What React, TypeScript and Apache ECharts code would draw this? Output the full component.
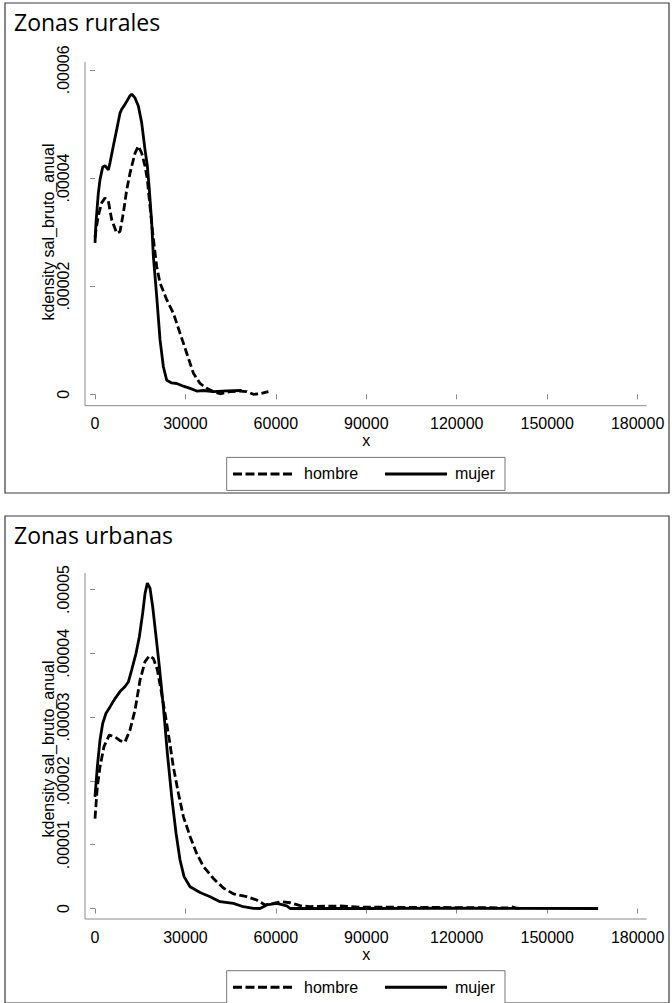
import React, { useEffect, useRef } from "react";
import * as echarts from "echarts";

// Panel titles / legend entries
const panelTitles = ["Zonas rurales", "Zonas urbanas"];
const seriesNames = ["hombre", "mujer"];
const yTitle = "kdensity sal_bruto_anual";
const xTitle = "x";

// Axis ranges
const xMax = 180000;
const xStep = 30000;
const ruralYMax = 0.00006;
const ruralYStep = 0.00002;
const urbanYMax = 0.00005;
const urbanYStep = 0.00001;

// Rural: [salary, density]
const ruralHombre: [number, number][] = [
  [0, 2.9e-5], [330, 3.04e-5], [1100, 3.3e-5], [2210, 3.54e-5], [3320, 3.63e-5],
  [4430, 3.57e-5], [5530, 3.23e-5], [7190, 2.98e-5], [8300, 3.01e-5], [9400, 3.35e-5],
  [10510, 3.78e-5], [11620, 4.09e-5], [13280, 4.46e-5], [14380, 4.59e-5], [15490, 4.46e-5],
  [16600, 4.22e-5], [17370, 3.97e-5], [18250, 3.47e-5], [19140, 2.98e-5], [20470, 2.36e-5],
  [21570, 2.06e-5], [23790, 1.75e-5], [25990, 1.5e-5], [28210, 1.13e-5], [30430, 7.6e-6],
  [32640, 3.9e-6], [34850, 2.0e-6], [37070, 1.1e-6], [39280, 0.5e-6], [41490, 0.1e-6],
  [44810, 0.5e-6], [48130, 0.6e-6], [50340, 0.5e-6], [52550, 0], [54760, 0.1e-6],
  [57520, 0.5e-6],
];
const ruralMujer: [number, number][] = [
  [0, 2.8e-5], [330, 3.17e-5], [1100, 3.72e-5], [1660, 3.97e-5], [2550, 4.2e-5],
  [3320, 4.23e-5], [4430, 4.15e-5], [4980, 4.28e-5], [6080, 4.59e-5], [7190, 4.89e-5],
  [8300, 5.2e-5], [8850, 5.27e-5], [9960, 5.36e-5], [11620, 5.52e-5], [12170, 5.55e-5],
  [13280, 5.48e-5], [14380, 5.33e-5], [15490, 5.02e-5], [16600, 4.52e-5], [17370, 4.22e-5],
  [18030, 3.78e-5], [18810, 3.17e-5], [19360, 2.55e-5], [20470, 1.81e-5], [21570, 1.01e-5],
  [22680, 5.1e-6], [23790, 2.6e-6], [25450, 2.1e-6], [27110, 2.0e-6], [29320, 1.5e-6],
  [31530, 1.1e-6], [33750, 0.6e-6], [35960, 0.7e-6], [39280, 0.5e-6], [43700, 0.65e-6],
  [48700, 0.7e-6],
];

// Urban: [salary, density]
const urbanHombre: [number, number][] = [
  [0, 1.41e-5], [770, 1.91e-5], [1660, 2.22e-5], [2990, 2.54e-5], [4760, 2.72e-5],
  [6640, 2.69e-5], [8300, 2.63e-5], [9960, 2.61e-5], [11620, 2.8e-5], [13280, 3.11e-5],
  [14940, 3.58e-5], [16600, 3.87e-5], [18030, 3.96e-5], [19360, 3.92e-5], [20690, 3.74e-5],
  [21910, 3.42e-5], [23230, 3.06e-5], [24670, 2.64e-5], [25990, 2.22e-5], [27650, 1.81e-5],
  [29320, 1.44e-5], [31530, 1.13e-5], [33750, 8.6e-6], [35960, 6.6e-6], [39280, 4.7e-6],
  [42590, 3.2e-6], [45910, 2.3e-6], [50340, 1.85e-6], [53670, 1.33e-6], [56420, 0.55e-6],
  [59180, 0.8e-6], [61960, 1.07e-6], [64720, 0.9e-6], [68040, 0.44e-6], [71360, 0.3e-6],
  [81300, 0.4e-6], [88000, 0.2e-6], [96800, 0.2e-6], [137000, 0.1e-6], [137700, 0.35e-6],
  [139500, 0.1e-6], [141000, 0],
];
const urbanMujer: [number, number][] = [
  [0, 1.75e-5], [770, 2.22e-5], [1660, 2.64e-5], [2550, 2.9e-5], [3650, 3.06e-5],
  [4980, 3.16e-5], [6640, 3.29e-5], [8300, 3.4e-5], [9960, 3.48e-5], [11060, 3.55e-5],
  [12170, 3.74e-5], [13610, 4.0e-5], [14710, 4.26e-5], [15820, 4.63e-5], [16600, 4.94e-5],
  [17370, 5.1e-5], [18250, 5.02e-5], [19140, 4.73e-5], [20250, 4.26e-5], [21350, 3.79e-5],
  [22680, 3.16e-5], [24010, 2.43e-5], [25450, 1.75e-5], [26890, 1.18e-5], [28210, 7.6e-6],
  [29540, 5.0e-6], [31530, 3.4e-6], [34850, 2.5e-6], [38170, 1.85e-6], [41490, 1.07e-6],
  [45910, 0.8e-6], [49220, 0.28e-6], [52540, 0.03e-6], [54760, 0], [56980, 0.55e-6],
  [60300, 0.8e-6], [63620, 0.4e-6], [64720, 0], [90000, 0], [120000, 0.05e-6], [166900, 0],
];

const AXIS_FONT = "'Liberation Sans', Arial, sans-serif";
const TITLE_FONT = "'Open Sans', 'Noto Sans', sans-serif";
const AXIS_GRAY = "#8a8a8a";
const DASH = [8, 3.5];

const fmtY = (v: number) => (v === 0 ? "0" : v.toFixed(5).replace(/^0/, ""));
const fmtX = (v: number) => String(Math.round(v));

export default function App() {
  const ref = useRef<HTMLDivElement>(null);
  useEffect(() => {
    const chart = echarts.init(ref.current!, null, { renderer: "svg" });

    const panels = [
      { top: 69.8, height: 324.5, yMax: ruralYMax, yStep: ruralYStep, xOff: 11.4, legendTop: 457.4, dy: 0 },
      { top: 589.5, height: 319, yMax: urbanYMax, yStep: urbanYStep, xOff: 10.5, legendTop: 970.7, dy: 513 },
    ];

    const grid = panels.map((p) => ({ left: 95, width: 542.6, top: p.top, height: p.height }));

    const xAxis = panels.map((p, i) => ({
      type: "value",
      gridIndex: i,
      min: 0,
      max: xMax,
      interval: xStep,
      offset: p.xOff,
      axisLine: { show: false },
      axisTick: { show: true, length: 5, lineStyle: { color: AXIS_GRAY, width: 1 } },
      splitLine: { show: false },
      axisLabel: { fontSize: 16, fontFamily: AXIS_FONT, color: "#000", margin: 10, formatter: fmtX },
      name: xTitle,
      nameLocation: "middle",
      nameGap: 27,
      nameMoveOverlap: false,
      nameTextStyle: { fontSize: 16, fontFamily: AXIS_FONT, color: "#000" },
    }));

    const yAxis = panels.map((p, i) => ({
      type: "value",
      gridIndex: i,
      min: 0,
      max: p.yMax,
      interval: p.yStep,
      offset: 10,
      axisLine: { show: false },
      axisTick: { show: true, length: 5, lineStyle: { color: AXIS_GRAY, width: 1 } },
      splitLine: { show: false },
      axisLabel: {
        rotate: 90,
        fontSize: 16,
        fontFamily: AXIS_FONT,
        color: "#000",
        margin: 14,
        formatter: fmtY,
      },
      name: yTitle,
      nameLocation: "middle",
      nameGap: 29,
      nameMoveOverlap: false,
      nameTextStyle: { fontSize: 16, fontFamily: AXIS_FONT, color: "#000" },
    }));

    const lineStyleFor = (name: string) =>
      name === "hombre"
        ? { color: "#000", width: 2.8, type: DASH as any }
        : { color: "#000", width: 2.8, type: "solid" };

    const dataSets = [
      [ruralHombre, ruralMujer],
      [urbanHombre, urbanMujer],
    ];

    const series: any[] = [];
    dataSets.forEach((pair, gi) => {
      pair.forEach((d, si) => {
        series.push({
          type: "line",
          name: seriesNames[si],
          xAxisIndex: gi,
          yAxisIndex: gi,
          data: d,
          symbol: "none",
          showSymbol: false,
          smooth: false,
          clip: false,
          lineStyle: lineStyleFor(seriesNames[si]),
          itemStyle: { color: "#000" },
          emphasis: { disabled: true },
        });
      });
    });

    const graphic: any[] = [];
    panels.forEach((p, i) => {
      const dy = p.dy;
      // panel border
      graphic.push({
        type: "rect",
        shape: { x: 5, y: 3 + dy, width: 664, height: i === 0 ? 490 : 487 },
        style: { fill: "none", stroke: "#3a3a3a", lineWidth: 1.2 },
        silent: true,
      });
      // title
      graphic.push({
        type: "text",
        x: 14,
        y: 21.5 + dy,
        style: {
          text: panelTitles[i],
          font: `23px ${TITLE_FONT}`,
          fill: "#000",
          textVerticalAlign: "middle",
          verticalAlign: "middle",
        },
        silent: true,
      });
      const axisY = p.top + p.height + p.xOff;
      // y axis line
      graphic.push({
        type: "line",
        shape: { x1: 85, y1: i === 0 ? 62 : 573, x2: 85, y2: axisY },
        style: { stroke: AXIS_GRAY, lineWidth: 1 },
        silent: true,
      });
      // x axis line
      graphic.push({
        type: "line",
        shape: { x1: 85, y1: axisY, x2: 646.7, y2: axisY },
        style: { stroke: AXIS_GRAY, lineWidth: 1 },
        silent: true,
      });
      // legend
      const lt = p.legendTop;
      const cy = lt + 16.5;
      graphic.push({
        type: "rect",
        shape: { x: 226.7, y: lt, width: 278.3, height: 33 },
        style: { fill: "#fff", stroke: "#777", lineWidth: 1 },
        silent: true,
      });
      graphic.push({
        type: "line",
        shape: { x1: 233, y1: cy, x2: 295, y2: cy },
        style: { stroke: "#000", lineWidth: 3, lineDash: [9, 3.5] },
        silent: true,
      });
      graphic.push({
        type: "text",
        x: 304,
        y: cy,
        style: { text: seriesNames[0], font: `16px ${AXIS_FONT}`, fill: "#000", verticalAlign: "middle" },
        silent: true,
      });
      graphic.push({
        type: "line",
        shape: { x1: 385, y1: cy, x2: 447, y2: cy },
        style: { stroke: "#000", lineWidth: 3 },
        silent: true,
      });
      graphic.push({
        type: "text",
        x: 455,
        y: cy,
        style: { text: seriesNames[1], font: `16px ${AXIS_FONT}`, fill: "#000", verticalAlign: "middle" },
        silent: true,
      });
    });

    chart.setOption({
      animation: false,
      backgroundColor: "#fff",
      grid,
      xAxis,
      yAxis,
      series,
      graphic,
    });
    return () => chart.dispose();
  }, []);
  return (
    <div
      ref={ref}
      style={{ position: "absolute", left: 0, top: 0, width: 672, height: 1003, background: "#fff" }}
    />
  );
}
